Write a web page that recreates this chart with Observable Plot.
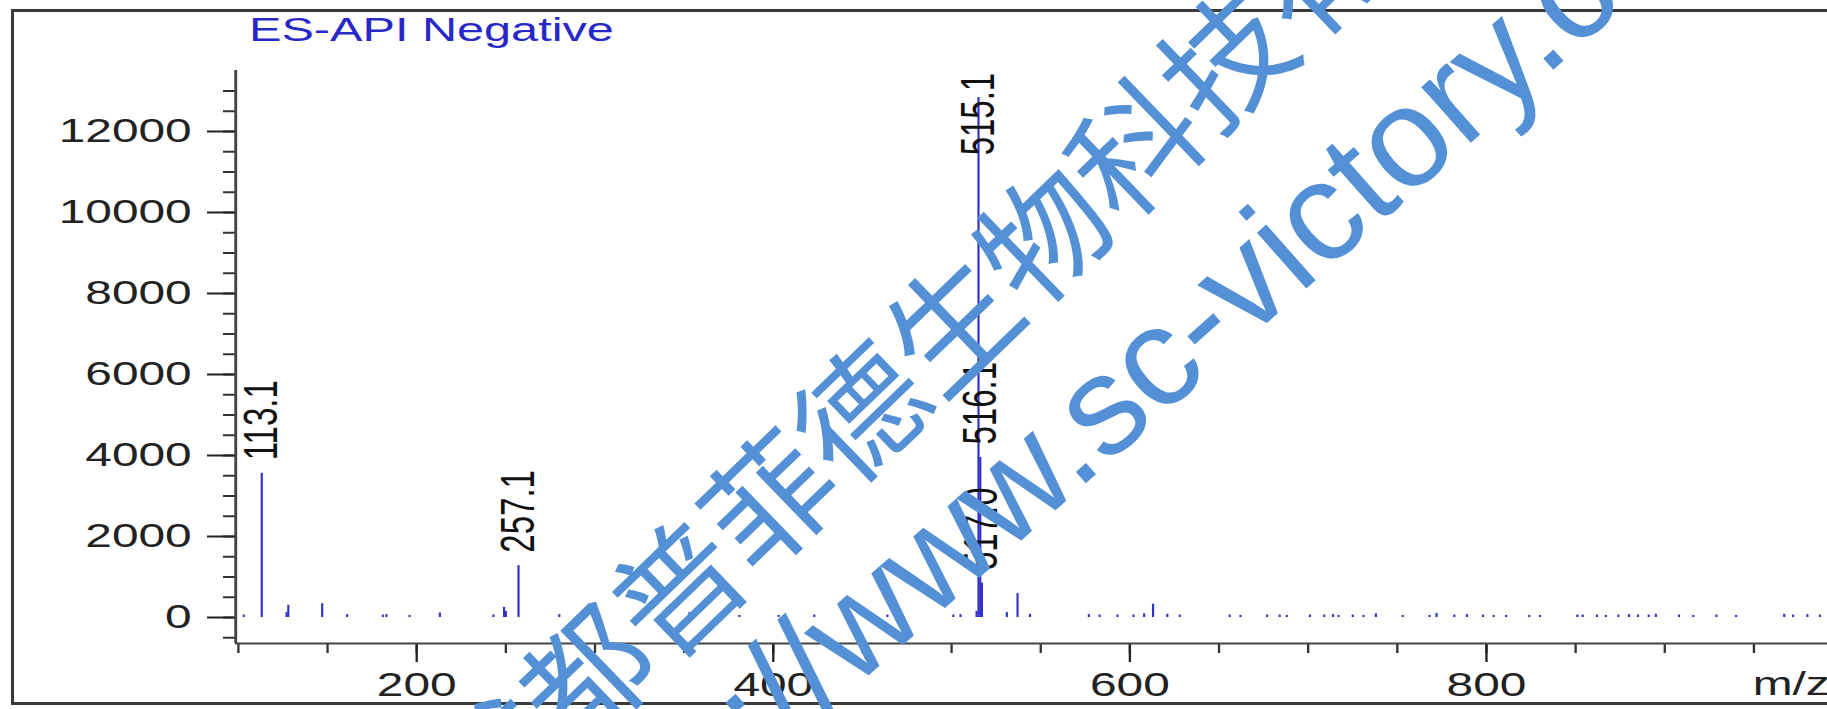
<!DOCTYPE html>
<html>
<head>
<meta charset="utf-8">
<script src="https://cdn.jsdelivr.net/npm/d3@7"></script>
<script src="https://cdn.jsdelivr.net/npm/@observablehq/plot@0.6"></script>
<style>
  html, body { margin: 0; padding: 0; background: #fff; overflow: hidden; }
  #wrap { position: relative; width: 1827px; height: 709px; overflow: hidden; background: #fff; }
  #title { position: relative; height: 48px; }
  #title span { position: absolute; left: 249px; top: 12px; font-family: "Liberation Sans", Arial, sans-serif; font-size: 34px; line-height: 1; color: #2828c8; white-space: nowrap; transform-origin: 0 0; transform: scaleX(1.43); }
  #frame { position: absolute; left: 11px; top: 9px; width: 1900px; height: 696px; box-sizing: border-box; border: 3px solid #3a3a3a; border-right: none; pointer-events: none; }
  .wm { position: absolute; white-space: nowrap; line-height: 1; color: #5490d6; transform-origin: 0 50%; pointer-events: none; }
  #wm-cn { left: 445px; top: 741px; font-family: "Noto Sans CJK SC", sans-serif; font-size: 127px; transform: rotate(-44deg); }
  #wm-url { left: 557px; top: 816px; font-family: "Liberation Sans", Arial, sans-serif; font-size: 141px; transform: rotate(-41.5deg); }
</style>
</head>
<body>
<div id="wrap">
  <div id="title"><span>ES-API Negative</span></div>
  <div id="chart"></div>
  <div id="frame"></div>
  <div class="wm" id="wm-cn">成都普菲德生物科技有限公司</div>
  <div class="wm" id="wm-url">http://www.sc-victory.com</div>
</div>
<script>
// ---- data ----
const peakMz = [
  103, 113.1, 127, 128, 147, 161, 181, 183, 196, 213, 243, 249, 250, 257.1, 280,
  353, 381, 403, 423, 464, 501, 505, 514, 515.1, 516.1, 517.0, 531, 537, 544,
  577, 583, 593, 602, 608, 613, 621, 628, 656, 662, 677, 684, 688, 701, 709, 714,
  717, 725, 731, 738, 753, 768, 772, 782, 789, 798, 804, 811, 824, 830, 851, 854,
  862, 867, 874, 880, 885, 891, 895, 908, 916, 929, 940, 967, 972, 980, 987
];
const peakIntensity = [
  60, 3560, 120, 300, 340, 70, 60, 70, 50, 110, 60, 250, 150, 1280, 70,
  120, 50, 50, 60, 60, 60, 70, 150, 12840, 3950, 850, 120, 590, 80,
  70, 60, 60, 60, 90, 330, 80, 60, 60, 50, 60, 60, 50, 60, 60, 70,
  50, 60, 50, 90, 50, 50, 100, 60, 70, 60, 50, 50, 50, 50, 60, 60,
  60, 50, 60, 70, 60, 60, 80, 60, 50, 60, 50, 80, 60, 70, 60
];
const labelMz = [113.1, 257.1, 515.1, 516.1, 517.0];
const labelText = ["113.1", "257.1", "515.1", "516.1", "517.0"];
const xMajorTicks = [200, 400, 600, 800];
const xMinorTicks = [100, 150, 200, 250, 300, 350, 400, 450, 500, 550, 600, 650, 700, 750, 800, 850, 900, 950];
const yMajorTicks = [0, 2000, 4000, 6000, 8000, 10000, 12000];
const yMinorTicks = [-500, 0, 500, 1000, 1500, 2000, 2500, 3000, 3500, 4000, 4500, 5000, 5500, 6000, 6500,
  7000, 7500, 8000, 8500, 9000, 9500, 10000, 10500, 11000, 11500, 12000, 12500, 13000];
const xDomain = [98.5, 991.4];
const yDomain = [-642, 13506];
const labelCeiling = 11090; // labels of very tall peaks are kept inside the frame

// ---- tables ----
const peaks = peakMz.map((mz, i) => ({mz, intensity: peakIntensity[i]}));
const labels = labelMz.map((mz, i) => {
  const p = peaks.find(d => d.mz === mz);
  return {mz, text: labelText[i], y: Math.min(p.intensity, labelCeiling)};
});

// ---- chart (the printout is stretched horizontally) ----
const S = 1.45;
const W = 1827, H = 661;
const font = '"Liberation Sans", Arial, sans-serif';

const svg = Plot.plot({
  width: Math.round(W / S),
  height: H,
  marginLeft: 235 / S,
  marginRight: 0,
  marginTop: 22,
  marginBottom: 66,
  x: {domain: xDomain},
  y: {domain: yDomain},
  style: {fontFamily: font, fontSize: "33px", color: "#222", background: "transparent", overflow: "hidden"},
  marks: [
    Plot.ruleX(peaks, {x: "mz", y1: () => 0, y2: "intensity", stroke: "#3232c8", strokeWidth: 1.5}),
    Plot.text(labels, {x: "mz", y: "y", text: "text", rotate: -90, textAnchor: "start", dy: -13, fontSize: 33, fill: "#111"}),
    Plot.axisY({ticks: yMinorTicks, tickSize: 12 / S, tickFormat: () => "", label: null, strokeWidth: 2, color: "#333"}),
    Plot.axisY({ticks: yMajorTicks, tickSize: 28 / S, tickPadding: 16 / S, tickFormat: d => String(d), label: null, strokeWidth: 2, color: "#222", fontSize: 33}),
    Plot.axisX({ticks: xMinorTicks, tickSize: 10, tickFormat: () => "", label: null, strokeWidth: 1.6, color: "#333"}),
    Plot.axisX({ticks: xMajorTicks, tickSize: 19, tickPadding: 10, tickFormat: d => String(d), label: null, strokeWidth: 1.6, color: "#222", fontSize: 33}),
    Plot.ruleX([xDomain[0]], {stroke: "#444", strokeWidth: 2}),
    Plot.ruleY([yDomain[0]], {stroke: "#444", strokeWidth: 2}),
    Plot.text(["m/z"], {frameAnchor: "bottom-right", text: d => d, textAnchor: "start", lineAnchor: "top", dx: -75 / S, dy: 28, fontSize: 33, fill: "#222"})
  ]
});

svg.setAttribute("width", W);
svg.setAttribute("height", H);
svg.setAttribute("preserveAspectRatio", "none");
svg.style.width = W + "px";
svg.style.height = H + "px";
svg.style.maxWidth = "none";
svg.style.display = "block";
document.getElementById("chart").appendChild(svg);
</script>
</body>
</html>
